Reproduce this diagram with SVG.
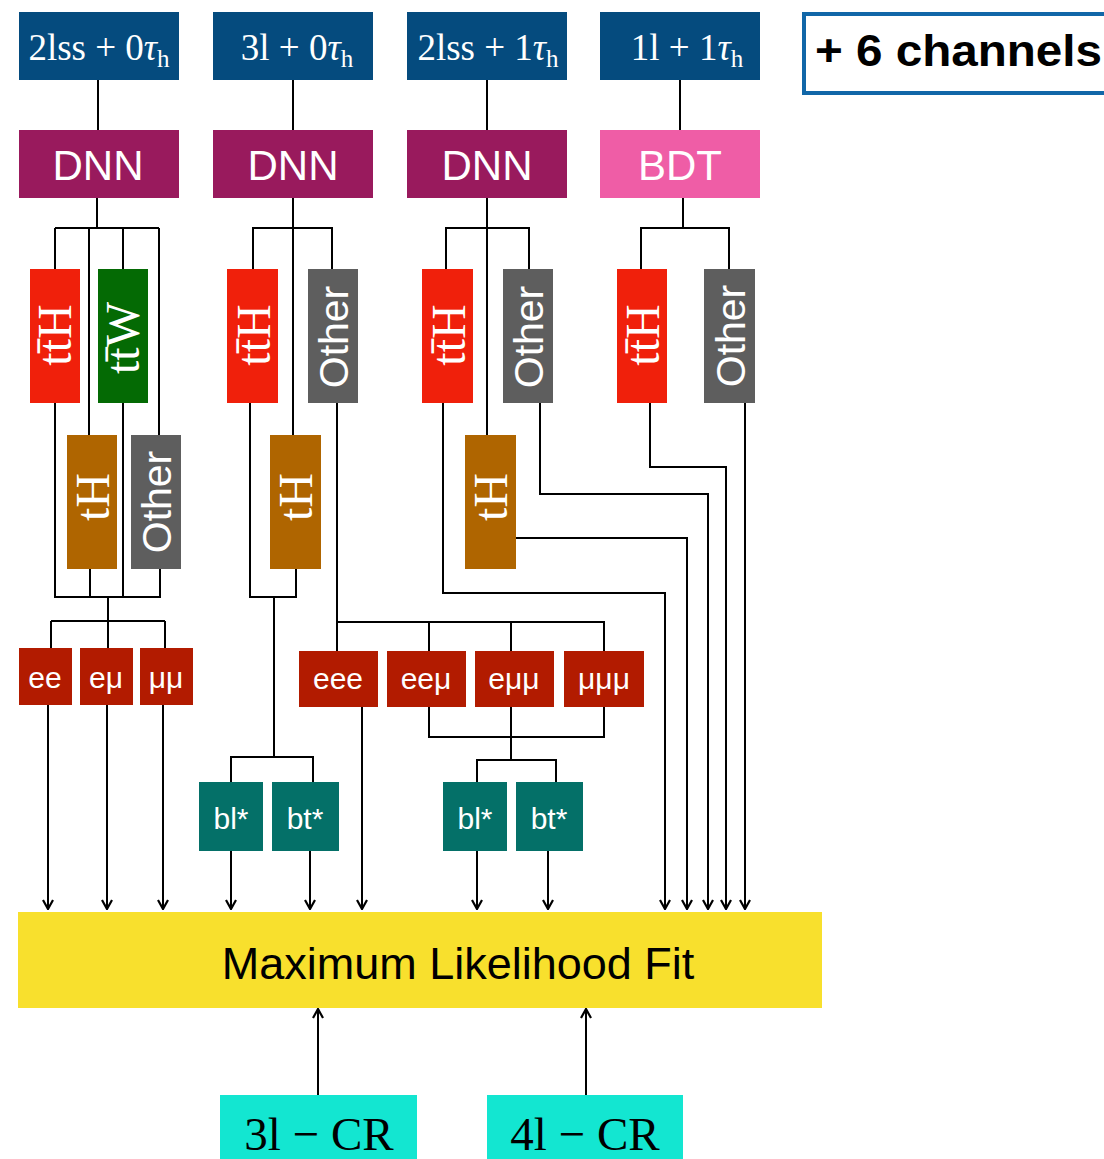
<svg xmlns="http://www.w3.org/2000/svg" width="1104" height="1159" viewBox="0 0 1104 1159">
<defs>
<style>
.hdr{fill:#054B7E}
.dnn{fill:#991A5D}
.bdt{fill:#EF5DA6}
.tth{fill:#F0200B}
.ttw{fill:#046A04}
.th{fill:#AF6500}
.oth{fill:#5E5E5E}
.lep{fill:#B21B00}
.bt{fill:#047068}
.fit{fill:#F8E02D}
.cr{fill:#13E6D1}
.serif{font-family:"Liberation Serif","Times New Roman",serif}
.sans{font-family:"Liberation Sans",Arial,sans-serif}
.htxt{font-size:37px;fill:#fff;text-anchor:middle}
.big{font-size:42px;fill:#fff;text-anchor:middle}
.rot{font-size:48px;fill:#fff;text-anchor:middle}
.rots{font-size:41px;fill:#fff;text-anchor:middle}
.lt{font-size:30px;fill:#fff;text-anchor:middle}
.conn path{fill:none;stroke:#000;stroke-width:2}
</style>
<marker id="arr" viewBox="0 0 12 12" refX="11" refY="6" markerWidth="12" markerHeight="12" markerUnits="userSpaceOnUse" orient="auto">
<path d="M2,1 L11,6 L2,11" fill="none" stroke="#000" stroke-width="2.2"/>
</marker>
</defs>
<rect width="1104" height="1159" fill="#fff"/>

<g class="conn" id="connectors">
<!-- column 1 -->
<path d="M98,80 V130"/>
<path d="M97,198 V228"/>
<path d="M55,228 H159"/>
<path d="M55,228 V269 M89,228 V435 M123,228 V269 M159,228 V435"/>
<path d="M55,403 V597 H160 V569 M90,569 V597 M123,403 V597"/>
<path d="M108,597 V621 M51,621 H165 M51,621 V648 M108,621 V648 M165,621 V648"/>
<path d="M48,705 V909" marker-end="url(#arr)"/>
<path d="M107,705 V909" marker-end="url(#arr)"/>
<path d="M163,705 V909" marker-end="url(#arr)"/>
<!-- column 2 -->
<path d="M293,80 V130"/>
<path d="M293,198 V435"/>
<path d="M253,269 V228 H332 V269"/>
<path d="M250,403 V597 H296 V569"/>
<path d="M274,597 V757 M231,782 V757 H313 V782"/>
<path d="M231,851 V909" marker-end="url(#arr)"/>
<path d="M310,851 V909" marker-end="url(#arr)"/>
<path d="M337,403 V651 M337,622 H604 V651 M429,622 V651 M511,622 V651"/>
<path d="M362,707 V909" marker-end="url(#arr)"/>
<path d="M429,707 V737 H604 V707 M511,707 V760 M477,782 V760 H556 V782"/>
<path d="M477,851 V909" marker-end="url(#arr)"/>
<path d="M548,851 V909" marker-end="url(#arr)"/>
<!-- column 3 -->
<path d="M487,80 V130"/>
<path d="M487,198 V435"/>
<path d="M446,269 V228 H529 V269"/>
<path d="M443,403 V593 H665 V909" marker-end="url(#arr)"/>
<path d="M516,538 H687 V909" marker-end="url(#arr)"/>
<path d="M540,403 V494 H708 V909" marker-end="url(#arr)"/>
<!-- column 4 -->
<path d="M680,80 V130"/>
<path d="M683,198 V229"/>
<path d="M641,269 V228 H729 V269"/>
<path d="M650,403 V467 H726 V909" marker-end="url(#arr)"/>
<path d="M745,403 V909" marker-end="url(#arr)"/>
<!-- control regions -->
<path d="M318,1095 V1009" marker-end="url(#arr)"/>
<path d="M586,1095 V1009" marker-end="url(#arr)"/>
</g>

<!-- headers -->
<g id="h-2lss0t"><rect class="hdr" x="19" y="12" width="160" height="68"/>
<text class="serif htxt" x="99" y="60">2lss + 0<tspan font-style="italic">τ</tspan><tspan dy="7" font-size="25">h</tspan></text></g>
<g id="h-3l0t"><rect class="hdr" x="213" y="12" width="160" height="68"/>
<text class="serif htxt" x="297" y="60">3l + 0<tspan font-style="italic">τ</tspan><tspan dy="7" font-size="25">h</tspan></text></g>
<g id="h-2lss1t"><rect class="hdr" x="407" y="12" width="160" height="68"/>
<text class="serif htxt" x="488" y="60">2lss + 1<tspan font-style="italic">τ</tspan><tspan dy="7" font-size="25">h</tspan></text></g>
<g id="h-1l1t"><rect class="hdr" x="600" y="12" width="160" height="68"/>
<text class="serif htxt" x="687" y="60">1l + 1<tspan font-style="italic">τ</tspan><tspan dy="7" font-size="25">h</tspan></text></g>
<g id="more"><rect x="804" y="14" width="320" height="79" fill="#fff" stroke="#1167A8" stroke-width="4"/>
<text class="sans" x="815" y="66" font-size="44" font-weight="bold" fill="#000" textLength="287" lengthAdjust="spacingAndGlyphs">+ 6 channels</text></g>

<!-- classifiers -->
<g id="dnn1"><rect class="dnn" x="19" y="130" width="160" height="68"/><text class="sans big" x="98" y="180">DNN</text></g>
<g id="dnn2"><rect class="dnn" x="213" y="130" width="160" height="68"/><text class="sans big" x="293" y="180">DNN</text></g>
<g id="dnn3"><rect class="dnn" x="407" y="130" width="160" height="68"/><text class="sans big" x="487" y="180">DNN</text></g>
<g id="bdt4"><rect class="bdt" x="600" y="130" width="160" height="68"/><text class="sans big" x="680" y="180">BDT</text></g>

<!-- column 1 categories -->
<g id="c1-tth"><rect class="tth" x="30" y="269" width="50" height="134"/><text class="serif rot" transform="translate(71,335) rotate(-90)">tt̄H</text></g>
<g id="c1-ttw"><rect class="ttw" x="98" y="269" width="50" height="134"/><text class="serif rot" transform="translate(139,338) rotate(-90)">tt̄W</text></g>
<g id="c1-th"><rect class="th" x="67" y="435" width="50" height="134"/><text class="serif rot" transform="translate(109,497) rotate(-90)">tH</text></g>
<g id="c1-oth"><rect class="oth" x="131" y="435" width="50" height="134"/><text class="sans rots" transform="translate(171,502) rotate(-90)">Other</text></g>
<g id="c1-ee"><rect class="lep" x="19" y="648" width="53" height="57"/><text class="sans lt" x="45" y="688">ee</text></g>
<g id="c1-em"><rect class="lep" x="80" y="648" width="53" height="57"/><text class="sans lt" x="106" y="688">eμ</text></g>
<g id="c1-mm"><rect class="lep" x="140" y="648" width="53" height="57"/><text class="sans lt" x="166" y="688">μμ</text></g>

<!-- column 2 categories -->
<g id="c2-tth"><rect class="tth" x="227" y="269" width="51" height="134"/><text class="serif rot" transform="translate(270,335) rotate(-90)">tt̄H</text></g>
<g id="c2-oth"><rect class="oth" x="308" y="269" width="50" height="134"/><text class="sans rots" transform="translate(348,337) rotate(-90)">Other</text></g>
<g id="c2-th"><rect class="th" x="270" y="435" width="51" height="134"/><text class="serif rot" transform="translate(312,497) rotate(-90)">tH</text></g>
<g id="c2-bl"><rect class="bt" x="199" y="782" width="64" height="69"/><text class="sans lt" x="231" y="829" font-size="31">bl*</text></g>
<g id="c2-bt"><rect class="bt" x="272" y="782" width="67" height="69"/><text class="sans lt" x="305" y="829" font-size="31">bt*</text></g>
<g id="c2-eee"><rect class="lep" x="299" y="651" width="79" height="56"/><text class="sans lt" x="338" y="689">eee</text></g>
<g id="c2-eem"><rect class="lep" x="387" y="651" width="79" height="56"/><text class="sans lt" x="426" y="689">eeμ</text></g>
<g id="c2-emm"><rect class="lep" x="475" y="651" width="79" height="56"/><text class="sans lt" x="514" y="689">eμμ</text></g>
<g id="c2-mmm"><rect class="lep" x="564" y="651" width="80" height="56"/><text class="sans lt" x="604" y="689">μμμ</text></g>
<g id="c2-bl2"><rect class="bt" x="443" y="782" width="64" height="69"/><text class="sans lt" x="475" y="829" font-size="31">bl*</text></g>
<g id="c2-bt2"><rect class="bt" x="516" y="782" width="67" height="69"/><text class="sans lt" x="549" y="829" font-size="31">bt*</text></g>

<!-- column 3 categories -->
<g id="c3-tth"><rect class="tth" x="422" y="269" width="51" height="134"/><text class="serif rot" transform="translate(465,335) rotate(-90)">tt̄H</text></g>
<g id="c3-oth"><rect class="oth" x="503" y="269" width="50" height="134"/><text class="sans rots" transform="translate(543,337) rotate(-90)">Other</text></g>
<g id="c3-th"><rect class="th" x="465" y="435" width="51" height="134"/><text class="serif rot" transform="translate(507,497) rotate(-90)">tH</text></g>

<!-- column 4 categories -->
<g id="c4-tth"><rect class="tth" x="617" y="269" width="50" height="134"/><text class="serif rot" transform="translate(659,335) rotate(-90)">tt̄H</text></g>
<g id="c4-oth"><rect class="oth" x="704" y="269" width="51" height="134"/><text class="sans rots" transform="translate(745,336) rotate(-90)">Other</text></g>

<!-- fit -->
<g id="fit"><rect class="fit" x="18" y="912" width="804" height="96"/>
<text class="sans" x="458" y="979" font-size="45" fill="#000" text-anchor="middle">Maximum Likelihood Fit</text></g>

<!-- control regions -->
<g id="cr3"><rect class="cr" x="220" y="1095" width="197" height="64"/><text class="serif" x="319" y="1150" font-size="47" fill="#000" text-anchor="middle">3l − CR</text></g>
<g id="cr4"><rect class="cr" x="487" y="1095" width="196" height="64"/><text class="serif" x="585" y="1150" font-size="47" fill="#000" text-anchor="middle">4l − CR</text></g>
</svg>
